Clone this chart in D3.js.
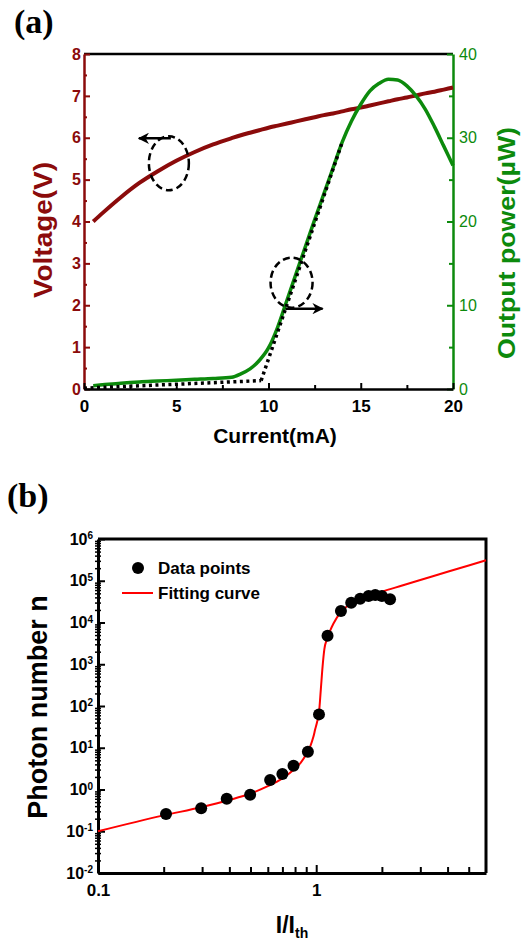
<!DOCTYPE html>
<html>
<head>
<meta charset="utf-8">
<script src="https://cdn.jsdelivr.net/npm/d3@7"></script>
<style>
  body { margin: 0; background: #fff; }
  svg { display: block; font-family: 'Liberation Sans', Arial, sans-serif; }
  .tick text { font-weight: bold; }
</style>
</head>
<body>
<div id="chart"></div>
<script>
// ---- panel (a): L-I-V ----
const currentMA = [0.5, 1, 2, 3, 4, 5, 6, 7, 8, 8.5, 9, 9.5, 10, 10.5, 11, 11.5, 12, 12.5, 13, 13.5, 14, 14.5, 15, 15.5, 16, 16.5, 17, 17.5, 18, 18.5, 19, 19.5, 20];
const voltageV = [4.0, 4.2, 4.58, 4.92, 5.2, 5.45, 5.66, 5.84, 5.99, 6.06, 6.12, 6.18, 6.24, 6.29, 6.34, 6.39, 6.44, 6.49, 6.54, 6.58, 6.63, 6.68, 6.72, 6.77, 6.82, 6.87, 6.92, 6.96, 7.01, 7.06, 7.1, 7.15, 7.2];
const outputPowerUW = [0.4, 0.5, 0.7, 0.85, 0.95, 1.05, 1.15, 1.25, 1.4, 1.8, 2.4, 3.4, 4.9, 7.4, 10.6, 13.8, 17.0, 20.2, 23.3, 26.4, 29.5, 32.0, 34.0, 35.6, 36.5, 37.0, 36.9, 36.2, 35.0, 33.4, 31.3, 29.0, 26.7];
const belowThresholdI = [0, 9.6];
const belowThresholdP = [0.1, 1.0];
const lasingFitI = [9.6, 14.0];
const lasingFitP = [1.0, 29.5];
const currentTicks = [0, 5, 10, 15, 20];
const voltageTicks = [0, 1, 2, 3, 4, 5, 6, 7, 8];
const powerTicks = [0, 10, 20, 30, 40];

// ---- panel (b): photon number ----
const ratioPoints = [0.205, 0.297, 0.389, 0.498, 0.615, 0.70, 0.787, 0.916, 1.03, 1.127, 1.298, 1.447, 1.59, 1.738, 1.865, 2.0, 2.18];
const photonPoints = [0.26, 0.355, 0.60, 0.75, 1.69, 2.35, 3.7, 8.0, 63, 4830, 18800, 29800, 37200, 43100, 45700, 43100, 35900];
const ratioFit = [0.1, 0.2, 0.3, 0.4, 0.5, 0.6, 0.7, 0.8, 0.85, 0.9, 0.94, 0.97, 0.99, 1.01, 1.03, 1.05, 1.07, 1.09, 1.12, 1.16, 1.2, 1.3, 1.45, 1.7, 2.0, 2.5, 3.0, 4.0, 5.0, 6.0];
const photonFit = [0.1, 0.24, 0.38, 0.56, 0.8, 1.2, 1.85, 3.2, 4.4, 7.0, 11, 18, 28, 42, 70, 250, 900, 2300, 4000, 6500, 9500, 18000, 29000, 42000, 55000, 78000, 104000, 164000, 232000, 310000];
const photonTicks = [1e-2, 1e-1, 1e0, 1e1, 1e2, 1e3, 1e4, 1e5, 1e6];
const ratioTicks = [0.1, 1];
const ratioMinorTicks = [0.2, 0.3, 0.4, 0.5, 0.6, 0.7, 0.8, 0.9, 2, 3, 4, 5];

const red = '#8b0b0b';
const green = '#0c8a0c';

const svg = d3.select('#chart').append('svg')
    .attr('width', 526)
    .attr('height', 948);

function styleAxis(g, color, width) {
  g.select('.domain').attr('stroke', color).attr('stroke-width', width);
  g.selectAll('.tick line').attr('stroke', color).attr('stroke-width', 2);
  g.selectAll('.tick text').attr('fill', color);
}

// =================== (a) ===================
const a = {left: 84, right: 453, top: 54, bottom: 389};

const xA = d3.scaleLinear().domain([0, 20]).range([a.left, a.right]);
const yV = d3.scaleLinear().domain([0, 8]).range([a.bottom, a.top]);
const yP = d3.scaleLinear().domain([0, 40]).range([a.bottom, a.top]);

svg.append('text')
    .attr('x', 14).attr('y', 33)
    .attr('font-family', "'Liberation Serif', 'Times New Roman', serif")
    .attr('font-weight', 'bold').attr('font-size', 34)
    .text('(a)');

// top border
svg.append('line')
    .attr('x1', a.left).attr('x2', a.right)
    .attr('y1', a.top).attr('y2', a.top)
    .attr('stroke', '#000').attr('stroke-width', 2.5);

// minor ticks
svg.append('g')
    .attr('transform', `translate(0,${a.bottom})`)
    .call(d3.axisBottom(xA).tickValues([2.5, 7.5, 12.5, 17.5]).tickSize(-4).tickFormat(''))
    .call(g => g.select('.domain').remove())
    .call(g => g.selectAll('.tick line').attr('stroke', '#000').attr('stroke-width', 2));

svg.append('g')
    .attr('transform', `translate(${a.left},0)`)
    .call(d3.axisLeft(yV).tickValues(d3.range(0.5, 8, 1)).tickSize(-3).tickFormat(''))
    .call(g => g.select('.domain').remove())
    .call(g => g.selectAll('.tick line').attr('stroke', red).attr('stroke-width', 2));

svg.append('g')
    .attr('transform', `translate(${a.right},0)`)
    .call(d3.axisRight(yP).tickValues([5, 15, 25, 35]).tickSize(-4).tickFormat(''))
    .call(g => g.select('.domain').remove())
    .call(g => g.selectAll('.tick line').attr('stroke', green).attr('stroke-width', 2));

// main axes
const leftAxisA = svg.append('g')
    .attr('transform', `translate(${a.left},0)`)
    .call(d3.axisLeft(yV).tickValues(voltageTicks).tickSize(-6).tickSizeOuter(0).tickPadding(3));
leftAxisA.selectAll('.tick text').attr('font-size', 16);
styleAxis(leftAxisA, red, 2.5);

const rightAxisA = svg.append('g')
    .attr('transform', `translate(${a.right},0)`)
    .call(d3.axisRight(yP).tickValues(powerTicks).tickSize(-6).tickSizeOuter(0).tickPadding(6));
rightAxisA.selectAll('.tick text').attr('font-size', 16).style('font-weight', 'normal');
styleAxis(rightAxisA, green, 2.5);

const bottomAxisA = svg.append('g')
    .attr('transform', `translate(0,${a.bottom})`)
    .call(d3.axisBottom(xA).tickValues(currentTicks).tickSize(-6).tickSizeOuter(0).tickPadding(11));
bottomAxisA.selectAll('.tick text').attr('font-size', 17);
styleAxis(bottomAxisA, '#000', 2.5);

// curves
const lineV = d3.line()
    .x(d => xA(d[0]))
    .y(d => yV(d[1]))
    .curve(d3.curveMonotoneX);

const lineP = d3.line()
    .x(d => xA(d[0]))
    .y(d => yP(d[1]))
    .curve(d3.curveMonotoneX);

svg.append('path')
    .datum(d3.zip(currentMA, voltageV))
    .attr('fill', 'none')
    .attr('stroke', red)
    .attr('stroke-width', 4)
    .attr('d', lineV);

svg.append('path')
    .datum(d3.zip(currentMA, outputPowerUW))
    .attr('fill', 'none')
    .attr('stroke', green)
    .attr('stroke-width', 3.5)
    .attr('stroke-linejoin', 'round')
    .attr('d', lineP);

[[belowThresholdI, belowThresholdP], [lasingFitI, lasingFitP]].forEach(([xs, ys]) => {
  svg.append('path')
      .datum(d3.zip(xs, ys))
      .attr('fill', 'none')
      .attr('stroke', '#000')
      .attr('stroke-width', 3.5)
      .attr('stroke-dasharray', '3,3.5')
      .attr('d', d3.line().x(d => xA(d[0])).y(d => yP(d[1])));
});

// annotations: dashed ellipses + arrows
svg.append('defs').append('marker')
    .attr('id', 'arrow')
    .attr('viewBox', '0 0 10 10')
    .attr('refX', 9).attr('refY', 5)
    .attr('markerWidth', 4.5).attr('markerHeight', 4.5)
    .attr('orient', 'auto')
  .append('path')
    .attr('d', 'M0,0 L10,5 L0,10 L3,5 Z')
    .attr('fill', '#000');

const vNote = {cx: xA(4.6), cy: yV(5.39)};
const pNote = {cx: xA(11.25), cy: yP(12.7)};

svg.append('ellipse')
    .attr('cx', vNote.cx).attr('cy', vNote.cy)
    .attr('rx', 20).attr('ry', 27)
    .attr('fill', 'none').attr('stroke', '#000')
    .attr('stroke-width', 2.5).attr('stroke-dasharray', '7,4');
svg.append('line')
    .attr('x1', vNote.cx + 2).attr('x2', vNote.cx - 30)
    .attr('y1', vNote.cy - 25).attr('y2', vNote.cy - 25)
    .attr('stroke', '#000').attr('stroke-width', 2.5)
    .attr('marker-end', 'url(#arrow)');

svg.append('ellipse')
    .attr('cx', pNote.cx).attr('cy', pNote.cy)
    .attr('rx', 21).attr('ry', 25)
    .attr('fill', 'none').attr('stroke', '#000')
    .attr('stroke-width', 2.5).attr('stroke-dasharray', '7,4');
svg.append('line')
    .attr('x1', pNote.cx - 6).attr('x2', pNote.cx + 31)
    .attr('y1', pNote.cy + 26).attr('y2', pNote.cy + 26)
    .attr('stroke', '#000').attr('stroke-width', 2.5)
    .attr('marker-end', 'url(#arrow)');

// axis titles
svg.append('text')
    .attr('transform', 'translate(43,230) rotate(-90)')
    .attr('text-anchor', 'middle').attr('dy', '0.35em')
    .attr('font-size', 25).attr('font-weight', 'bold')
    .attr('fill', red)
    .attr('textLength', 136).attr('lengthAdjust', 'spacingAndGlyphs')
    .text('Voltage(V)');

svg.append('text')
    .attr('transform', 'translate(507,243) rotate(-90)')
    .attr('text-anchor', 'middle').attr('dy', '0.35em')
    .attr('font-size', 24).attr('font-weight', 'bold')
    .attr('fill', green)
    .attr('textLength', 232).attr('lengthAdjust', 'spacingAndGlyphs')
    .text('Output power(µW)');

svg.append('text')
    .attr('x', 275).attr('y', 443)
    .attr('text-anchor', 'middle')
    .attr('font-size', 21).attr('font-weight', 'bold')
    .text('Current(mA)');

// =================== (b) ===================
const b = {left: 98, right: 486, top: 539, bottom: 873};

const xB = d3.scaleLog().domain([0.1, 6]).range([b.left, b.right]);
const yB = d3.scaleLog().domain([1e-2, 1e6]).range([b.bottom, b.top]);

svg.append('text')
    .attr('x', 7).attr('y', 507)
    .attr('font-family', "'Liberation Serif', 'Times New Roman', serif")
    .attr('font-weight', 'bold').attr('font-size', 34)
    .text('(b)');

// borders
svg.append('path')
    .attr('d', `M${b.left},${b.top}H${b.right}V${b.bottom}`)
    .attr('fill', 'none').attr('stroke', '#000').attr('stroke-width', 3);

// minor ticks, left (both sides)
const photonMinor = [];
photonTicks.slice(0, -1).forEach(t => d3.range(2, 10).forEach(m => photonMinor.push(t * m)));
[-3, 3].forEach(size => {
  svg.append('g')
      .attr('transform', `translate(${b.left},0)`)
      .call(d3.axisLeft(yB).tickValues(photonMinor).tickSize(size).tickFormat(''))
      .call(g => g.select('.domain').remove())
      .call(g => g.selectAll('.tick line').attr('stroke', '#000').attr('stroke-width', 1.5));
});

svg.append('g')
    .attr('transform', `translate(0,${b.bottom})`)
    .call(d3.axisBottom(xB).tickValues(ratioMinorTicks).tickSize(-6).tickFormat(''))
    .call(g => g.select('.domain').remove())
    .call(g => g.selectAll('.tick line').attr('stroke', '#000').attr('stroke-width', 2));

const leftAxisB = svg.append('g')
    .attr('transform', `translate(${b.left},0)`)
    .call(d3.axisLeft(yB).tickValues(photonTicks).tickSize(-7).tickSizeOuter(0).tickPadding(5));
leftAxisB.selectAll('.tick text')
    .attr('font-size', 16)
    .each(function(d) {
      const t = d3.select(this);
      t.text('');
      t.append('tspan').text('10');
      t.append('tspan')
          .attr('dy', '-0.55em')
          .attr('font-size', 10)
          .text(Math.round(Math.log10(d)));
    });
styleAxis(leftAxisB, '#000', 3);

const bottomAxisB = svg.append('g')
    .attr('transform', `translate(0,${b.bottom})`)
    .call(d3.axisBottom(xB).tickValues(ratioTicks).tickFormat(d3.format('')).tickSize(-8).tickSizeOuter(0).tickPadding(11));
bottomAxisB.selectAll('.tick text').attr('font-size', 17);
styleAxis(bottomAxisB, '#000', 3);

// fit curve
svg.append('path')
    .datum(d3.zip(ratioFit, photonFit))
    .attr('fill', 'none')
    .attr('stroke', '#ff0000')
    .attr('stroke-width', 2)
    .attr('d', d3.line().x(d => xB(d[0])).y(d => yB(d[1])).curve(d3.curveMonotoneX));

svg.append('g')
  .selectAll('circle')
  .data(d3.zip(ratioPoints, photonPoints))
  .join('circle')
    .attr('cx', d => xB(d[0]))
    .attr('cy', d => yB(d[1]))
    .attr('r', 6)
    .attr('fill', '#000');

// legend
const legend = svg.append('g').attr('font-size', 17).attr('font-weight', 'bold');
legend.append('circle').attr('cx', 138).attr('cy', 568).attr('r', 6).attr('fill', '#000');
legend.append('text').attr('x', 158).attr('y', 574).text('Data points');
legend.append('line')
    .attr('x1', 122).attr('x2', 153).attr('y1', 593).attr('y2', 593)
    .attr('stroke', '#ff0000').attr('stroke-width', 2);
legend.append('text').attr('x', 158).attr('y', 599).text('Fitting curve');

// axis titles
svg.append('text')
    .attr('transform', 'translate(38,707) rotate(-90)')
    .attr('text-anchor', 'middle').attr('dy', '0.35em')
    .attr('font-size', 27).attr('font-weight', 'bold')
    .text('Photon number n');

const xTitleB = svg.append('text')
    .attr('x', 292).attr('y', 933)
    .attr('text-anchor', 'middle')
    .attr('font-size', 23).attr('font-weight', 'bold');
xTitleB.append('tspan').text('I/I');
xTitleB.append('tspan').attr('dy', '0.35em').attr('font-size', 14).text('th');
</script>
</body>
</html>
